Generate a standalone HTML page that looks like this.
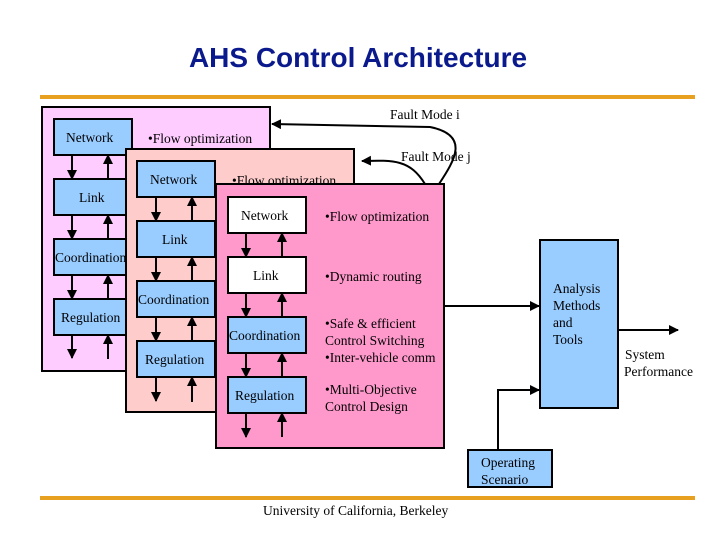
<!DOCTYPE html>
<html><head><meta charset="utf-8"><style>
body{margin:0;background:#fff;width:720px;height:540px;overflow:hidden}
svg text{font-family:"Liberation Serif",serif;font-size:13.5px;fill:#000}
</style></head><body>
<svg width="720" height="540" viewBox="0 0 720 540" xmlns="http://www.w3.org/2000/svg">
<defs><marker id="a" viewBox="0 0 10 10" refX="9" refY="5" markerWidth="5" markerHeight="5" orient="auto"><path d="M0,0L10,5L0,10z" fill="#000"/></marker></defs>
<text x="358" y="67" text-anchor="middle" style="font-family:'Liberation Sans',sans-serif;font-weight:bold;font-size:28px;fill:#0a1a8c">AHS Control Architecture</text>
<rect x="40" y="95" width="655" height="4" fill="#e8a020"/>
<rect x="40" y="496" width="655" height="4" fill="#e8a020"/>
<text x="263" y="515">University of California, Berkeley</text>

<!-- panel 1 -->
<rect x="42" y="107" width="228" height="264" fill="#ffccff" stroke="#000" stroke-width="2"/>
<g fill="#99ccff" stroke="#000" stroke-width="2">
<rect x="54" y="119" width="78" height="36"/><rect x="54" y="179" width="78" height="36"/><rect x="54" y="239" width="78" height="36"/><rect x="54" y="299" width="78" height="36"/></g>
<g stroke="#000" stroke-width="2" marker-end="url(#a)">
<line x1="72" y1="155" x2="72" y2="179"/><line x1="108" y1="179" x2="108" y2="155"/>
<line x1="72" y1="215" x2="72" y2="239"/><line x1="108" y1="239" x2="108" y2="215"/>
<line x1="72" y1="275" x2="72" y2="299"/><line x1="108" y1="299" x2="108" y2="275"/>
<line x1="72" y1="335" x2="72" y2="358"/><line x1="108" y1="359" x2="108" y2="335"/></g>
<text x="66" y="142">Network</text><text x="79" y="202">Link</text><text x="55" y="262">Coordination</text><text x="61" y="322">Regulation</text>
<text x="148" y="143">•Flow optimization</text>

<!-- panel 2 -->
<rect x="126" y="149" width="228" height="263" fill="#ffcccc" stroke="#000" stroke-width="2"/>
<g fill="#99ccff" stroke="#000" stroke-width="2">
<rect x="137" y="161" width="78" height="36"/><rect x="137" y="221" width="78" height="36"/><rect x="137" y="281" width="78" height="36"/><rect x="137" y="341" width="78" height="36"/></g>
<g stroke="#000" stroke-width="2" marker-end="url(#a)">
<line x1="156" y1="197" x2="156" y2="221"/><line x1="192" y1="221" x2="192" y2="197"/>
<line x1="156" y1="257" x2="156" y2="281"/><line x1="192" y1="281" x2="192" y2="257"/>
<line x1="156" y1="317" x2="156" y2="341"/><line x1="192" y1="341" x2="192" y2="317"/>
<line x1="156" y1="377" x2="156" y2="401"/><line x1="192" y1="402" x2="192" y2="377"/></g>
<text x="150" y="184">Network</text><text x="162" y="244">Link</text><text x="138" y="304">Coordination</text><text x="145" y="364">Regulation</text>
<text x="232" y="185">•Flow optimization</text>

<!-- panel 3 -->
<rect x="216" y="184" width="228" height="264" fill="#ff99cc" stroke="#000" stroke-width="2"/>
<g stroke="#000" stroke-width="2">
<rect x="228" y="197" width="78" height="36" fill="#fff"/><rect x="228" y="257" width="78" height="36" fill="#fff"/><rect x="228" y="317" width="78" height="36" fill="#99ccff"/><rect x="228" y="377" width="78" height="36" fill="#99ccff"/></g>
<g stroke="#000" stroke-width="2" marker-end="url(#a)">
<line x1="246" y1="233" x2="246" y2="257"/><line x1="282" y1="257" x2="282" y2="233"/>
<line x1="246" y1="293" x2="246" y2="317"/><line x1="282" y1="317" x2="282" y2="293"/>
<line x1="246" y1="353" x2="246" y2="377"/><line x1="282" y1="377" x2="282" y2="353"/>
<line x1="246" y1="413" x2="246" y2="437"/><line x1="282" y1="437" x2="282" y2="413"/></g>
<text x="241" y="220">Network</text><text x="253" y="280">Link</text><text x="229" y="340">Coordination</text><text x="235" y="400">Regulation</text>
<text x="325" y="221">•Flow optimization</text>
<text x="325" y="281">•Dynamic routing</text>
<text x="325" y="328">•Safe &amp; efficient</text><text x="325" y="345">Control Switching</text><text x="325" y="362">•Inter-vehicle comm</text>
<text x="325" y="394">•Multi-Objective</text><text x="325" y="411">Control Design</text>

<!-- fault modes -->
<path d="M439,184 C455,160 470,135 430,127 L272,124" fill="none" stroke="#000" stroke-width="2" marker-end="url(#a)"/>
<path d="M425,184 C410,160 395,160 362,161" fill="none" stroke="#000" stroke-width="2" marker-end="url(#a)"/>
<text x="390" y="119">Fault Mode i</text>
<text x="401" y="161">Fault Mode j</text>

<!-- analysis -->
<rect x="540" y="240" width="78" height="168" fill="#99ccff" stroke="#000" stroke-width="2"/>
<text x="553" y="293">Analysis</text><text x="553" y="310">Methods</text><text x="553" y="327">and</text><text x="553" y="344">Tools</text>
<line x1="444" y1="306" x2="539" y2="306" stroke="#000" stroke-width="2" marker-end="url(#a)"/>
<line x1="618" y1="330" x2="678" y2="330" stroke="#000" stroke-width="2" marker-end="url(#a)"/>
<text x="625" y="359">System</text><text x="624" y="376">Performance</text>
<rect x="468" y="450" width="84" height="37" fill="#99ccff" stroke="#000" stroke-width="2"/>
<text x="481" y="467">Operating</text><text x="481" y="484">Scenario</text>
<path d="M498,450 L498,390 L539,390" fill="none" stroke="#000" stroke-width="2" marker-end="url(#a)"/>
</svg>
</body></html>
